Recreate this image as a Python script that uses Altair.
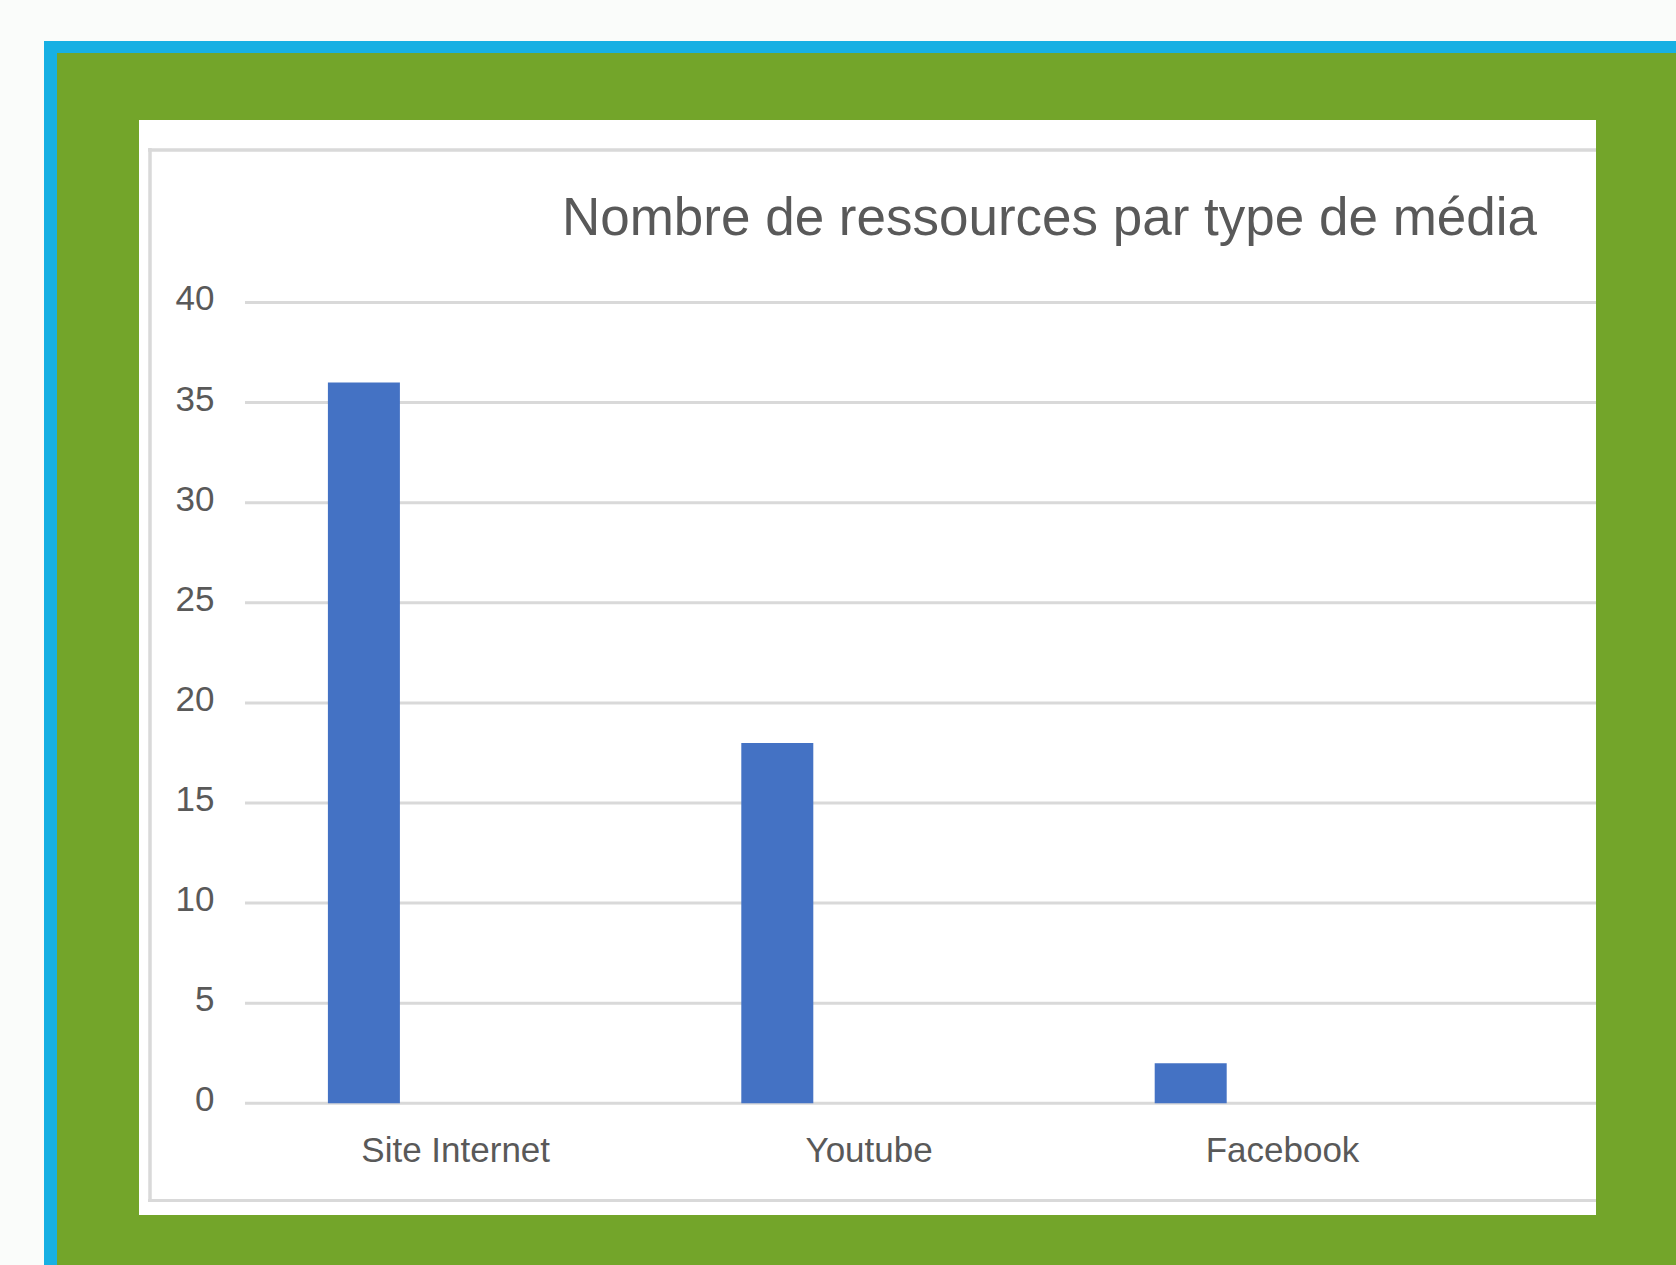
import altair as alt
import pandas as pd

# ---- data ----
categories = ["Site Internet", "Youtube", "Facebook"]
values = [36, 18, 2]
y_ticks = [0, 5, 10, 15, 20, 25, 30, 35, 40]
chart_title = "Nombre de ressources par type de média"

# ---- styling ----
FONT = "Liberation Sans"
TEXT = "#595959"
GRID = "#d9d9d9"
BAR = "#4472c4"
PAGE = "#fafcfa"
BLUE = "#17b0e3"
GREEN = "#73a52a"

W, H = 1351, 800.8
PL, PT = 245, 302.5

bars_df = pd.DataFrame({"cat": categories, "val": values})
grid_df = pd.DataFrame({"g": y_ticks})
one = pd.DataFrame({"k": [0]})

yscale = alt.Scale(domain=[0, 40])
xscale = alt.Scale(domain=categories, range=[4, 1244.2], paddingInner=0, paddingOuter=0)

y_axis = alt.Axis(
    title=None, domain=False, ticks=False, tickSize=0, grid=False,
    values=y_ticks, labelFont=FONT, labelFontSize=35, labelColor=TEXT,
    labelBaseline="alphabetic", labelOffset=7.4, labelPadding=31,
    labelAlign="right", labelLimit=400, zindex=1,
)


def rect(x, x2, y, y2, color):
    return alt.Chart(one).mark_rect(color=color).encode(
        x=alt.value(x), x2=alt.value(x2), y=alt.value(y), y2=alt.value(y2)
    )


def hrule(x, x2, y, sw):
    return alt.Chart(one).mark_rule(color=GRID, strokeWidth=sw).encode(
        x=alt.value(x), x2=alt.value(x2), y=alt.value(y)
    )


def vrule(x, y, y2, sw):
    return alt.Chart(one).mark_rule(color=GRID, strokeWidth=sw).encode(
        x=alt.value(x), y=alt.value(y), y2=alt.value(y2)
    )


blue = rect(44 - PL, 1676 - PL, 41 - PT, 1265 - PT, BLUE)
green = rect(57 - PL, 1676 - PL, 53 - PT, 1265 - PT, GREEN)
white = rect(139 - PL, 1596 - PL, 120 - PT, 1215 - PT, "#ffffff")
border_top = hrule(148 - PL, 1596 - PL, 150 - PT, 3.5)
border_left = vrule(150 - PL, 148 - PT, 1202 - PT, 3.5)
border_bottom = hrule(148 - PL, 1596 - PL, 1200.5 - PT, 3)

gridlines = alt.Chart(grid_df).mark_rule(color=GRID, strokeWidth=3).encode(
    y=alt.Y("g:Q", scale=yscale, axis=y_axis)
)

bars = alt.Chart(bars_df).mark_bar(color=BAR, width=72, xOffset=-91.8).encode(
    x=alt.X(
        "cat:N",
        sort=categories,
        scale=xscale,
        axis=alt.Axis(
            title=None, domain=False, ticks=False, tickSize=0, grid=False,
            labelFont=FONT, labelFontSize=35, labelColor=TEXT, labelAngle=0,
            labelBaseline="alphabetic", labelPadding=58.4, labelLimit=600,
            zindex=1,
        ),
    ),
    y=alt.Y("val:Q", scale=yscale, axis=y_axis),
)

title = alt.Chart(one).mark_text(
    text=chart_title, font=FONT, fontSize=53, color=TEXT,
    align="center", baseline="alphabetic",
).encode(x=alt.value(1049.5 - PL), y=alt.value(235 - PT))

chart = alt.layer(
    blue, green, white, border_top, border_left, border_bottom,
    gridlines, bars, title,
).properties(
    width=W,
    height=H,
    autosize=alt.AutoSizeParams(type="none"),
    padding={"left": PL, "top": PT, "right": 1676 - PL - W, "bottom": 1265 - PT - H},
    background=PAGE,
).configure_view(stroke=None)

chart.save("out.html", embed_options={"renderer": "svg", "actions": False})
